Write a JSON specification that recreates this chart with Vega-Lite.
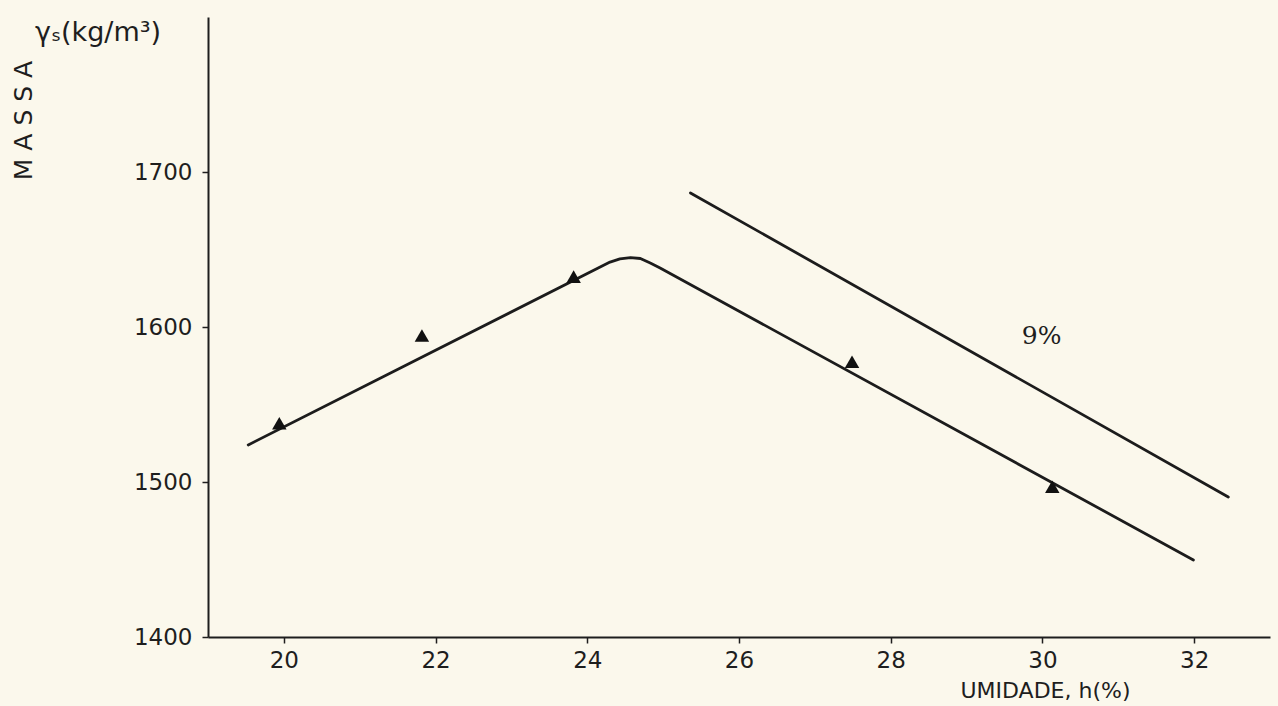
{
  "$schema": "https://vega.github.io/schema/vega-lite/v6.json",
  "autosize": {"type": "none"},
  "padding": {"left": 208, "top": 17, "right": 8, "bottom": 69},
  "width": 1062,
  "height": 620,
  "background": "#fbf8ec",
  "config": {
    "view": {"stroke": null},
    "font": "DejaVu Sans",
    "axis": {
      "grid": false,
      "domainColor": "#1e1e1e",
      "domainWidth": 2,
      "tickColor": "#1e1e1e",
      "tickWidth": 1.5,
      "tickSize": 6,
      "labelColor": "#1e1e1e",
      "labelFont": "DejaVu Sans",
      "labelFontSize": 23,
      "titleColor": "#1e1e1e",
      "titleFont": "DejaVu Sans",
      "titleFontWeight": "normal"
    }
  },
  "datasets": {
    "curves": [
      {"series": "a", "o": 1, "h": 19.53, "m": 1523.9},
      {"series": "a", "o": 2, "h": 24.30, "m": 1641.9},
      {"series": "a", "o": 3, "h": 24.43, "m": 1643.9},
      {"series": "a", "o": 4, "h": 24.57, "m": 1644.8},
      {"series": "a", "o": 5, "h": 24.70, "m": 1644.2},
      {"series": "a", "o": 6, "h": 24.83, "m": 1641.3},
      {"series": "a", "o": 7, "h": 24.96, "m": 1638.1},
      {"series": "a", "o": 8, "h": 31.99, "m": 1449.7},
      {"series": "b", "o": 1, "h": 25.36, "m": 1686.5},
      {"series": "b", "o": 2, "h": 32.45, "m": 1490.3}
    ],
    "points": [
      {"h": 19.94, "m": 1537.9},
      {"h": 21.82, "m": 1594.5},
      {"h": 23.82, "m": 1632.5},
      {"h": 27.49, "m": 1577.6},
      {"h": 30.13, "m": 1497.0}
    ]
  },
  "layer": [
    {
      "data": {"name": "curves"},
      "mark": {"type": "line", "color": "#1c1c1c", "strokeWidth": 2.8, "strokeCap": "round", "strokeJoin": "round", "interpolate": "linear"},
      "encoding": {
        "x": {
          "field": "h", "type": "quantitative",
          "scale": {"domain": [19, 33], "nice": false, "zero": false},
          "axis": {
            "values": [20, 22, 24, 26, 28, 30, 32],
            "format": "d",
            "labelPadding": 6,
            "title": "UMIDADE, h(%)",
            "titleFontSize": 22,
            "titleX": 837,
            "titleY": 53,
            "titleAlign": "center",
            "titleBaseline": "middle"
          }
        },
        "y": {
          "field": "m", "type": "quantitative",
          "scale": {"domain": [1400, 1800], "nice": false, "zero": false},
          "axis": {
            "values": [1400, 1500, 1600, 1700],
            "format": "d",
            "labelPadding": 10,
            "title": "M A S S A",
            "titleFontSize": 25,
            "titleAngle": 270,
            "titleX": -185,
            "titleY": 103,
            "titleAlign": "center",
            "titleBaseline": "middle"
          }
        },
        "detail": {"field": "series", "type": "nominal"},
        "order": {"field": "o", "type": "quantitative"}
      }
    },
    {
      "data": {"name": "points"},
      "mark": {"type": "point", "shape": "triangle-up", "filled": true, "size": 210, "color": "#111111", "opacity": 1},
      "encoding": {
        "x": {"field": "h", "type": "quantitative"},
        "y": {"field": "m", "type": "quantitative"}
      }
    },
    {
      "data": {"values": [{"h": 29.99, "m": 1594, "label": "9%"}]},
      "mark": {"type": "text", "fontSize": 25, "color": "#1e1e1e", "align": "center", "baseline": "middle", "font": "DejaVu Serif"},
      "encoding": {
        "x": {"field": "h", "type": "quantitative"},
        "y": {"field": "m", "type": "quantitative"},
        "text": {"field": "label"}
      }
    },
    {
      "data": {"values": [{"h": 17.55, "m": 1789.5, "label": "γₛ(kg/m³)"}]},
      "mark": {"type": "text", "fontSize": 27, "color": "#1e1e1e", "align": "center", "baseline": "middle"},
      "encoding": {
        "x": {"field": "h", "type": "quantitative"},
        "y": {"field": "m", "type": "quantitative"},
        "text": {"field": "label"}
      }
    }
  ]
}
